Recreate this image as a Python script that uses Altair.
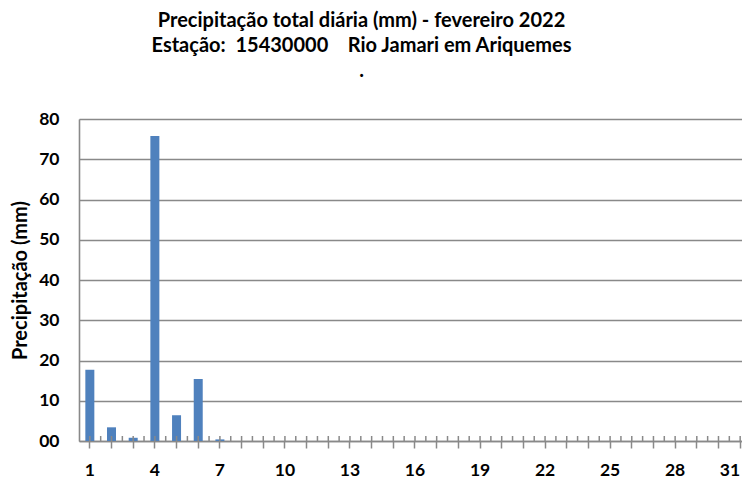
import altair as alt
import pandas as pd

days = list(range(1, 32))
precip = [17.7, 3.4, 0.8, 75.8, 6.4, 15.4, 0.4] + [0.0] * 24
y_ticks = [0, 10, 20, 30, 40, 50, 60, 70, 80]

title_lines = [
    "Precipitação total diária (mm) - fevereiro 2022",
    "Estação:\u00a0\u00a015430000\u00a0\u00a0\u00a0\u00a0Rio Jamari em Ariquemes",
    ".",
]

df = pd.DataFrame({"day": days, "precip": precip})
bdf = pd.DataFrame({"day": days[1:]})

W, H = 663, 322          # visible plot area (page is 750 px wide)
RANGE = 672              # full category axis length (runs past the window edge)
STEP = RANGE / 31
GRAY = "#898989"
FONT = "Lato"
FS = 17.5
TFS = 20

xscale = alt.Scale(paddingInner=0, paddingOuter=0, range=[0, RANGE])

bars = alt.Chart(df).mark_bar(size=9, color="#4F81BD", clip=True).encode(
    x=alt.X(
        "day:O",
        scale=xscale,
        sort="ascending",
        axis=alt.Axis(
            title=None,
            labelAngle=0,
            labelExpr="(datum.value - 1) % 3 === 0 ? datum.label : ''",
            labelAlign=alt.condition(
                "datum.value == 31", alt.value("right"), alt.value("center")
            ),
            labelFont=FONT,
            labelFontSize=FS,
            labelFontWeight="bold",
            labelColor="black",
            labelPadding=13,
            tickSize=7,
            tickColor=GRAY,
            tickWidth=1.5,
            domainColor=GRAY,
            domainWidth=1.6,
            grid=False,
        ),
    ),
    y=alt.Y(
        "precip:Q",
        scale=alt.Scale(domain=[0, 80], nice=False),
        axis=alt.Axis(
            values=y_ticks,
            format="02d",
            title="Precipitação (mm)",
            titleFont=FONT,
            titleFontSize=TFS,
            titleFontWeight="bold",
            titleColor="black",
            titlePadding=8,
            labelFont=FONT,
            labelFontSize=FS,
            labelFontWeight="bold",
            labelColor="black",
            labelPadding=20,
            ticks=False,
            domainColor=GRAY,
            domainWidth=1.6,
            grid=True,
            gridColor=GRAY,
            gridWidth=1.6,
        ),
    ),
)

center_ticks = alt.Chart(df).mark_rule(color=GRAY, strokeWidth=1.5, clip=True).encode(
    x=alt.X("day:O", scale=xscale, sort="ascending"),
    y=alt.value(H - 5),
    y2=alt.value(H),
)

boundary_ticks = alt.Chart(bdf).mark_rule(
    color=GRAY, strokeWidth=1.5, xOffset=-STEP / 2, clip=True
).encode(
    x=alt.X("day:O", scale=xscale, sort="ascending"),
    y=alt.value(H - 5),
    y2=alt.value(H),
)

chart = (
    alt.layer(bars, center_ticks, boundary_ticks)
    .properties(
        width=W,
        height=H,
        title=alt.TitleParams(
            text=title_lines,
            font=FONT,
            fontSize=TFS,
            fontWeight="bold",
            color="black",
            lineHeight=25,
            anchor="middle",
            dx=-49,
            offset=29,
        ),
        autosize=alt.AutoSizeParams(type="none"),
        padding={"left": 71, "top": 111, "right": 0, "bottom": 38},
    )
    .configure_view(stroke=None)
    .configure(background="white")
)

chart.save("out.html", embed_options={"renderer": "svg", "actions": False})
